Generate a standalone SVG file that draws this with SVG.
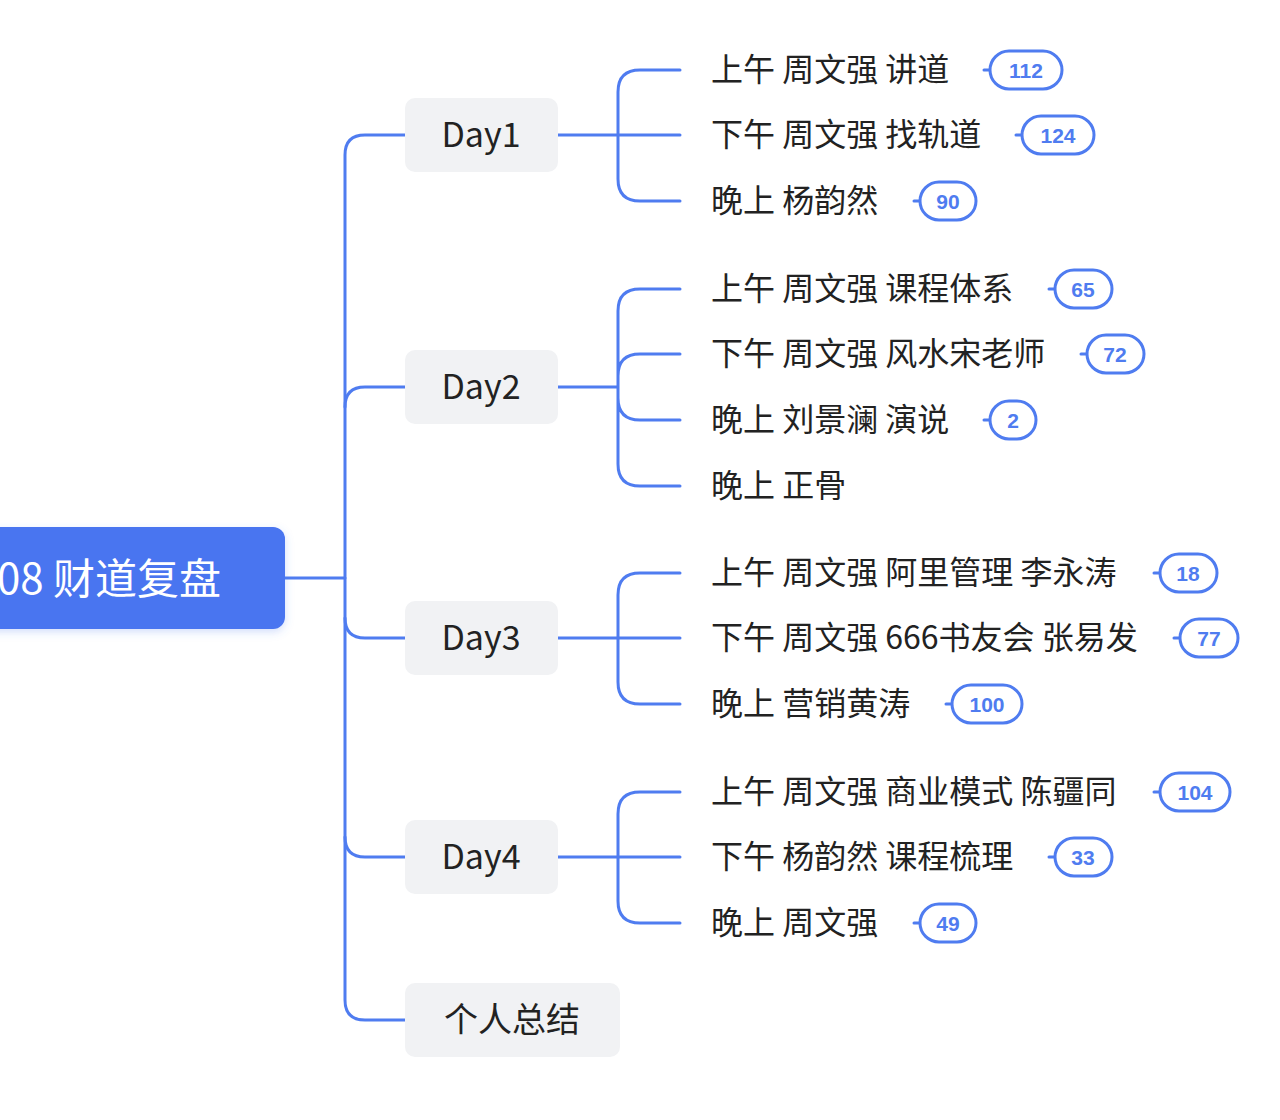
<svg xmlns="http://www.w3.org/2000/svg" width="1280" height="1120" viewBox="0 0 1280 1120">
<defs>
<style>
.ln{fill:none;stroke:#4f7cf0;stroke-width:3;stroke-linecap:round}
.day{fill:#f1f2f4}
.t{font-family:"Noto Sans CJK SC","Noto Sans",sans-serif;fill:#222;font-size:32px}
.dt{font-family:"Noto Sans CJK SC","Noto Sans",sans-serif;fill:#222;font-size:34px;text-anchor:middle}
.pill{fill:#fff;stroke:#4f7cf0;stroke-width:3}
.bt{font-family:"Liberation Sans",Arial,sans-serif;font-weight:bold;fill:#4f7cf0;font-size:21px;text-anchor:middle}
</style>
<filter id="sh" x="-10%" y="-20%" width="120%" height="150%"><feDropShadow dx="0" dy="3" stdDeviation="4" flood-color="#4f7cf0" flood-opacity="0.25"/></filter>
</defs>
<rect width="1280" height="1120" fill="#fff"/>
<g id="connectors">
<path class="ln" d="M285 578H345"/>
<path class="ln" d="M405 135H365Q345 135 345 155V1000Q345 1020 365 1020H405"/>
<path class="ln" d="M405 387H365Q345 387 345 407"/>
<path class="ln" d="M405 638H365Q345 638 345 618"/>
<path class="ln" d="M405 857H365Q345 857 345 837"/>
<path class="ln" d="M558 135H680M680 70H640Q618 70 618 92V179Q618 201 640 201H680"/>
<path class="ln" d="M558 387H618M680 289H640Q618 289 618 311V464Q618 486 640 486H680M680 354H640Q618 354 618 376M680 420H640Q618 420 618 398"/>
<path class="ln" d="M558 638H680M680 573H640Q618 573 618 595V682Q618 704 640 704H680"/>
<path class="ln" d="M558 857H680M680 792H640Q618 792 618 814V901Q618 923 640 923H680"/>
</g>
<g id="root"><rect x="-20" y="527" width="305" height="102" rx="12" fill="#4874f0" filter="url(#sh)"/><text x="-3" y="594" font-family="Noto Sans CJK SC,Noto Sans,sans-serif" font-size="42" fill="#fff">08 财道复盘</text></g>
<g id="day1"><rect class="day" x="405" y="98" width="153" height="74" rx="10"/><text class="dt" x="481" y="147">Day1</text></g>
<g id="day2"><rect class="day" x="405" y="350" width="153" height="74" rx="10"/><text class="dt" x="481" y="399">Day2</text></g>
<g id="day3"><rect class="day" x="405" y="601" width="153" height="74" rx="10"/><text class="dt" x="481" y="650">Day3</text></g>
<g id="day4"><rect class="day" x="405" y="820" width="153" height="74" rx="10"/><text class="dt" x="481" y="869">Day4</text></g>
<g id="summary"><rect class="day" x="405" y="983" width="215" height="74" rx="10"/><text class="dt" x="512" y="1032">个人总结</text></g>
<g id="leaves">
<text class="t" x="711" y="81">上午 周文强 讲道</text>
<text class="t" x="711" y="146">下午 周文强 找轨道</text>
<text class="t" x="711" y="212">晚上 杨韵然</text>
<text class="t" x="711" y="300">上午 周文强 课程体系</text>
<text class="t" x="711" y="365">下午 周文强 风水宋老师</text>
<text class="t" x="711" y="431">晚上 刘景澜 演说</text>
<text class="t" x="711" y="497">晚上 正骨</text>
<text class="t" x="711" y="584">上午 周文强 阿里管理 李永涛</text>
<text class="t" x="711" y="649">下午 周文强 666书友会 张易发</text>
<text class="t" x="711" y="715">晚上 营销黄涛</text>
<text class="t" x="711" y="803">上午 周文强 商业模式 陈疆同</text>
<text class="t" x="711" y="868">下午 杨韵然 课程梳理</text>
<text class="t" x="711" y="934">晚上 周文强</text>
</g>
<g id="badges">
<path class="ln" d="M984 70h6M1016 135h6M914 201h6M1049 289h6M1081 354h6M984 420h6M1154 573h6M1174 638h6M946 704h6M1154 792h6M1049 857h6M914 923h6"/>
<rect class="pill" x="990" y="51" width="72" height="38" rx="19"/><text class="bt" x="1026" y="78">112</text>
<rect class="pill" x="1022" y="116" width="72" height="38" rx="19"/><text class="bt" x="1058" y="143">124</text>
<rect class="pill" x="920" y="182" width="56" height="38" rx="19"/><text class="bt" x="948" y="209">90</text>
<rect class="pill" x="1055" y="270" width="57" height="38" rx="19"/><text class="bt" x="1083" y="297">65</text>
<rect class="pill" x="1087" y="335" width="57" height="38" rx="19"/><text class="bt" x="1115" y="362">72</text>
<rect class="pill" x="990" y="401" width="46" height="38" rx="19"/><text class="bt" x="1013" y="428">2</text>
<rect class="pill" x="1160" y="554" width="57" height="38" rx="19"/><text class="bt" x="1188" y="581">18</text>
<rect class="pill" x="1180" y="619" width="58" height="38" rx="19"/><text class="bt" x="1209" y="646">77</text>
<rect class="pill" x="952" y="685" width="70" height="38" rx="19"/><text class="bt" x="987" y="712">100</text>
<rect class="pill" x="1160" y="773" width="70" height="38" rx="19"/><text class="bt" x="1195" y="800">104</text>
<rect class="pill" x="1055" y="838" width="57" height="38" rx="19"/><text class="bt" x="1083" y="865">33</text>
<rect class="pill" x="920" y="904" width="56" height="38" rx="19"/><text class="bt" x="948" y="931">49</text>
</g>
</svg>
